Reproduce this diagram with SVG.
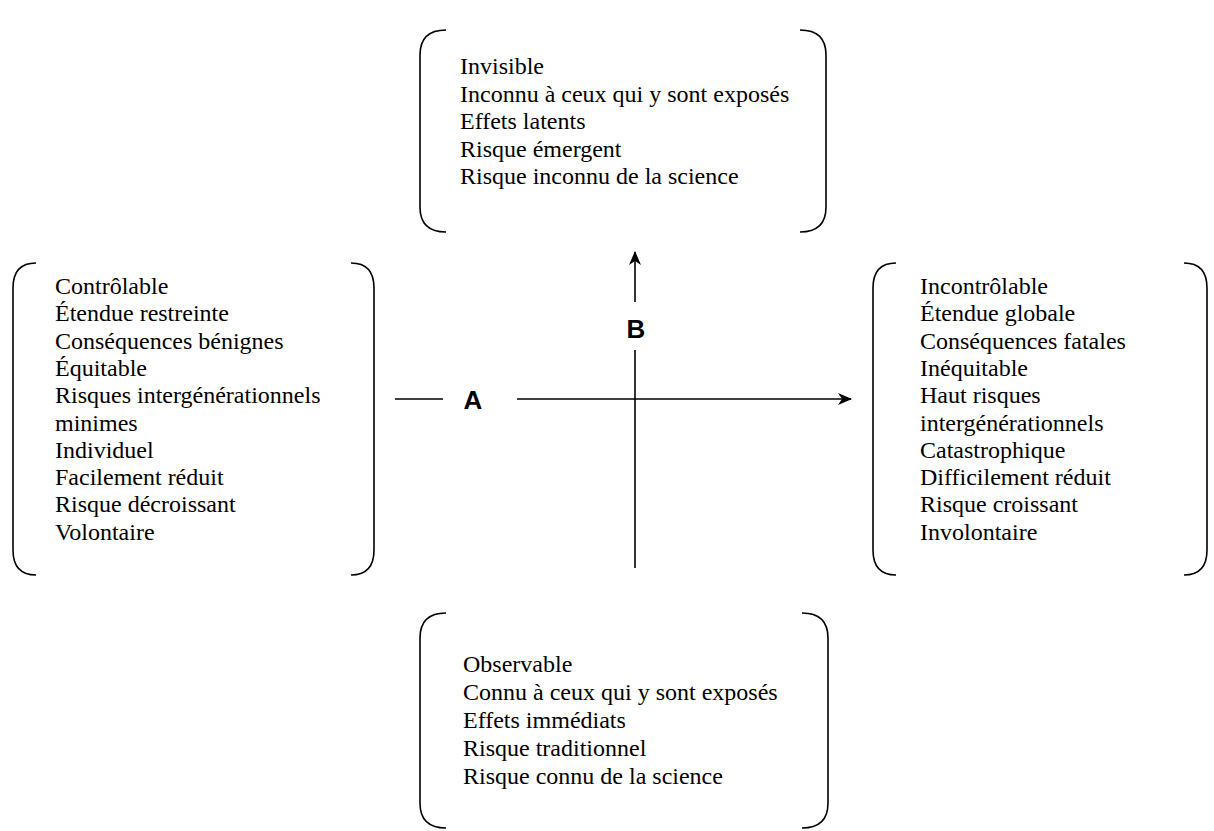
<svg xmlns="http://www.w3.org/2000/svg" width="1214" height="831" viewBox="0 0 1214 831">
<defs>
<style>
.br{fill:none;stroke:#000;stroke-width:1.6}
.t{font-family:"Liberation Serif","Times New Roman",serif;font-size:24px;fill:#000}
.lbl{font-family:"Liberation Sans",Arial,sans-serif;font-size:26px;font-weight:bold;fill:#000}
.ln{stroke:#000;stroke-width:1.6;fill:none}
</style>
<marker id="ah" markerWidth="14" markerHeight="12" refX="13" refY="6" orient="auto" markerUnits="userSpaceOnUse">
<path d="M0,0 L14,6 L0,12 L4,6 z" fill="#000"/>
</marker>
</defs>
<rect width="1214" height="831" fill="#fff"/>

<g id="top">
<path class="br" d="M446 30 Q420 30 420 55 L420 207 Q420 232 446 232"/>
<path class="br" d="M800 30 Q826 30 826 55 L826 207 Q826 232 800 232"/>
<text class="t" x="460" y="74">Invisible</text>
<text class="t" x="460" y="101.5">Inconnu à ceux qui y sont exposés</text>
<text class="t" x="460" y="129">Effets latents</text>
<text class="t" x="460" y="156.5">Risque émergent</text>
<text class="t" x="460" y="184">Risque inconnu de la science</text>
</g>

<g id="left">
<path class="br" d="M36 263 Q13 263 13 288 L13 550 Q13 575 36 575"/>
<path class="br" d="M351 263 Q374 263 374 288 L374 550 Q374 575 351 575"/>
<text class="t" x="55" y="294">Contrôlable</text>
<text class="t" x="55" y="321.3">Étendue restreinte</text>
<text class="t" x="55" y="348.6">Conséquences bénignes</text>
<text class="t" x="55" y="375.9">Équitable</text>
<text class="t" x="55" y="403.2">Risques intergénérationnels</text>
<text class="t" x="55" y="430.5">minimes</text>
<text class="t" x="55" y="457.8">Individuel</text>
<text class="t" x="55" y="485.1">Facilement réduit</text>
<text class="t" x="55" y="512.4">Risque décroissant</text>
<text class="t" x="55" y="539.7">Volontaire</text>
</g>

<g id="right">
<path class="br" d="M896 263 Q873 263 873 288 L873 550 Q873 575 896 575"/>
<path class="br" d="M1184 263 Q1207 263 1207 288 L1207 550 Q1207 575 1184 575"/>
<text class="t" x="920" y="294">Incontrôlable</text>
<text class="t" x="920" y="321.3">Étendue globale</text>
<text class="t" x="920" y="348.6">Conséquences fatales</text>
<text class="t" x="920" y="375.9">Inéquitable</text>
<text class="t" x="920" y="403.2">Haut risques</text>
<text class="t" x="920" y="430.5">intergénérationnels</text>
<text class="t" x="920" y="457.8">Catastrophique</text>
<text class="t" x="920" y="485.1">Difficilement réduit</text>
<text class="t" x="920" y="512.4">Risque croissant</text>
<text class="t" x="920" y="539.7">Involontaire</text>
</g>

<g id="bottom">
<path class="br" d="M446 613 Q420 613 420 638 L420 803 Q420 828 446 828"/>
<path class="br" d="M802 613 Q828 613 828 638 L828 803 Q828 828 802 828"/>
<text class="t" x="463" y="672">Observable</text>
<text class="t" x="463" y="700">Connu à ceux qui y sont exposés</text>
<text class="t" x="463" y="728">Effets immédiats</text>
<text class="t" x="463" y="756">Risque traditionnel</text>
<text class="t" x="463" y="784">Risque connu de la science</text>
</g>

<g id="connectors">
<line class="ln" x1="395" y1="399" x2="443" y2="399"/>
<line class="ln" x1="517" y1="399" x2="851" y2="399" marker-end="url(#ah)"/>
<line class="ln" x1="635" y1="568" x2="635" y2="350"/>
<line class="ln" x1="635" y1="302" x2="635" y2="252" marker-end="url(#ah)"/>
</g>

<g id="labels">
<text class="lbl" x="473" y="409" text-anchor="middle">A</text>
<text class="lbl" x="636" y="338" text-anchor="middle">B</text>
</g>
</svg>
